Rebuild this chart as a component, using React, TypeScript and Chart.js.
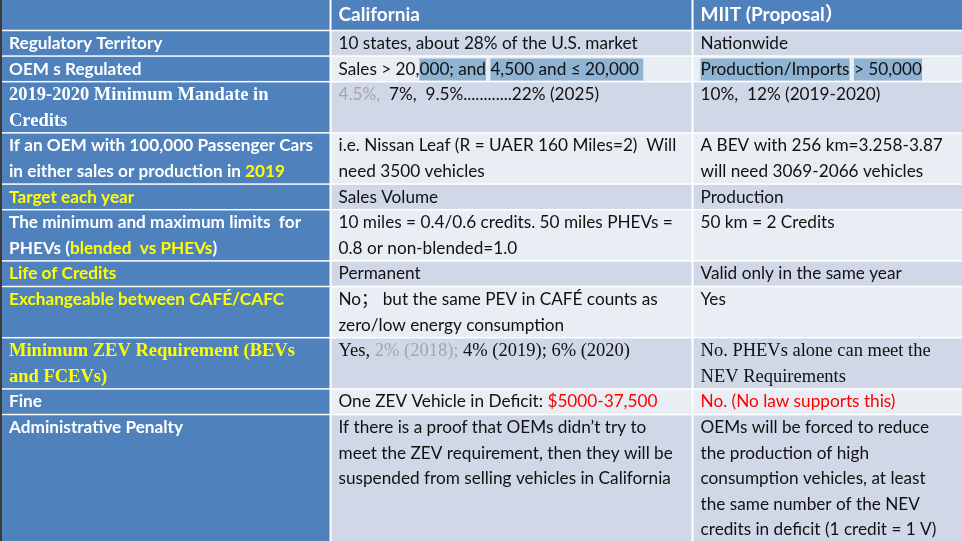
import { useEffect, useRef } from "react";
import { Chart, registerables } from "chart.js";

Chart.register(...registerables);

// ---------- content ----------
const columnHeaders = ["", "California", "MIIT (Proposal）"];

const rowLabels = [
  "Regulatory Territory",
  "OEM s Regulated",
  "2019-2020 Minimum Mandate in\nCredits",
  "If an OEM with 100,000 Passenger Cars\nin either sales or production in {y|2019}",
  "{y|Target each year}",
  "The minimum and maximum limits  for\nPHEVs ({y|blended  vs PHEVs})",
  "{y|Life of Credits}",
  "{y|Exchangeable between CAFÉ/CAFC}",
  "{y|Minimum ZEV Requirement (BEVs}\n{y|and FCEVs)}",
  "Fine",
  "Administrative Penalty",
];

const californiaValues = [
  "10 states, about 28% of the U.S. market",
  "Sales > 20,{h|000; and} {h|4,500 and ≤ 20,000 }",
  "{g|4.5%, } 7%,  9.5%............22% (2025)",
  "i.e. Nissan Leaf (R = UAER 160 Miles=2)  Will\nneed 3500 vehicles",
  "Sales Volume",
  "10 miles = 0.4/0.6 credits. 50 miles PHEVs =\n0.8 or non-blended=1.0",
  "Permanent",
  "No； but the same PEV in CAFÉ counts as\nzero/low energy consumption",
  "Yes, {g|2% (2018); }4% (2019); 6% (2020)",
  "One ZEV Vehicle in Deficit: {r|$5000-37,500}",
  "If there is a proof that OEMs didn’t try to\nmeet the ZEV requirement, then they will be\nsuspended from selling vehicles in California",
];

const miitValues = [
  "Nationwide",
  "{h|Production/Imports} {h|> 50,000}",
  "10%,  12% (2019-2020)",
  "A BEV with 256 km=3.258-3.87\nwill need 3069-2066 vehicles",
  "Production",
  "50 km = 2 Credits",
  "Valid only in the same year",
  "Yes",
  "No. PHEVs alone can meet the\nNEV Requirements",
  "{r|No. (No law supports this)}",
  "OEMs will be forced to reduce\nthe production of high\nconsumption vehicles, at least\nthe same number of the NEV\ncredits in deficit (1 credit = 1 V)",
];

const rowLineCounts = [1, 1, 2, 2, 1, 2, 1, 2, 2, 1, 5];

// ---------- layout & style ----------
const COL_EDGES = [0, 34.22, 71.93, 100]; // percent of table width
const HEADER_LINES = 1.19;
const Y_MAX = 21.13;
const SERIF_CELLS = new Set(["2-0", "8-0", "8-1", "8-2"]);

const BLUE = "#4f81bd";
const ROW_DARK = "#d0d8e8";
const ROW_LIGHT = "#e9edf4";
const HILITE = "#8fb3d2";
const RUN_COLORS: Record<string, string> = {
  y: "#ffff00",
  g: "#a6a6a6",
  r: "#ff0000",
};
const SANS = "Lato, 'Noto Sans CJK SC'";
const SERIF = "'Liberation Serif', 'Noto Sans CJK SC'";
const SANS_SIZE = 17.2;
const HEADER_SIZE = 19;
const SERIF_SIZE = 18.5;

type Run = { text: string; kind: string };

function parseLine(line: string): Run[] {
  const runs: Run[] = [];
  const re = /\{(\w)\|([^}]*)\}/g;
  let last = 0;
  let m: RegExpExecArray | null;
  while ((m = re.exec(line))) {
    if (m.index > last) runs.push({ text: line.slice(last, m.index), kind: "" });
    runs.push({ text: m[2], kind: m[1] });
    last = m.index + m[0].length;
  }
  if (last < line.length) runs.push({ text: line.slice(last), kind: "" });
  return runs;
}

const tablePlugin = {
  id: "tablePlugin",
  beforeDraw(chart: any) {
    const { ctx, scales, width, height } = chart;
    const xs = scales.x;
    const ys = scales.y;
    const linePx = ys.getPixelForValue(1) - ys.getPixelForValue(0);
    ctx.save();
    ctx.fillStyle = "#ffffff";
    ctx.fillRect(0, 0, width, height);
    // slide edge
    ctx.fillStyle = "#3b3b3b";
    ctx.fillRect(0, 0, 2, height);

    const drawCell = (
      col: number,
      top: number,
      bottom: number,
      fill: string,
      content: string,
      baseColor: string,
      bold: boolean,
      serif: boolean,
      firstBaseline: number,
      sizeOverride?: number
    ) => {
      const x0 = xs.getPixelForValue(COL_EDGES[col]) + (col === 0 ? 0 : 1);
      const x1 = xs.getPixelForValue(COL_EDGES[col + 1]) - (col === 2 ? 0 : 1);
      const y0 = ys.getPixelForValue(top) + (top === 0 ? 0 : 0.75);
      const y1 = ys.getPixelForValue(bottom) - 0.75;
      ctx.fillStyle = fill;
      ctx.fillRect(x0, y0, x1 - x0, y1 - y0);
      const size = sizeOverride || (serif ? SERIF_SIZE : SANS_SIZE);
      ctx.font = `${bold ? "bold " : ""}${size}px ${serif ? SERIF : SANS}`;
      ctx.textBaseline = "alphabetic";
      const lines = content.split("\n");
      lines.forEach((ln, i) => {
        let x = x0 + 7;
        const by = ys.getPixelForValue(top) + firstBaseline + i * linePx;
        parseLine(ln).forEach((run) => {
          const w = ctx.measureText(run.text).width;
          if (run.kind === "h") {
            ctx.fillStyle = HILITE;
            ctx.fillRect(x, by - 16, w, 22);
          }
          ctx.fillStyle = RUN_COLORS[run.kind] || baseColor;
          ctx.fillText(run.text, x, by);
          x += w;
        });
      });
    };

    // header row
    columnHeaders.forEach((h, c) => {
      drawCell(c, 0, HEADER_LINES, BLUE, h, "#ffffff", true, false, 0.83 * linePx, HEADER_SIZE);
    });
    // body rows
    let top = HEADER_LINES;
    rowLabels.forEach((label, r) => {
      const bottom = top + rowLineCounts[r];
      const fill = r % 2 === 0 ? ROW_DARK : ROW_LIGHT;
      const fb = 0.72 * linePx;
      drawCell(0, top, bottom, BLUE, label, "#ffffff", true, SERIF_CELLS.has(`${r}-0`), fb);
      drawCell(1, top, bottom, fill, californiaValues[r], "#111111", false, SERIF_CELLS.has(`${r}-1`), fb);
      drawCell(2, top, bottom, fill, miitValues[r], "#111111", false, SERIF_CELLS.has(`${r}-2`), fb);
      top = bottom;
    });
    ctx.restore();
  },
};

export default function App() {
  const ref = useRef<HTMLCanvasElement>(null);
  useEffect(() => {
    document.body.style.margin = "0";
    const chart = new Chart(ref.current!, {
      type: "scatter",
      data: { datasets: [] },
      options: {
        animation: false,
        responsive: true,
        maintainAspectRatio: false,
        layout: { padding: { left: 2, right: 0, top: 0, bottom: 0 } },
        plugins: { legend: { display: false }, tooltip: { enabled: false } },
        scales: {
          x: { type: "linear", min: 0, max: 100, display: false },
          y: { type: "linear", min: 0, max: Y_MAX, reverse: true, display: false },
        },
      },
      plugins: [tablePlugin],
    });
    return () => chart.destroy();
  }, []);
  return (
    <div style={{ width: 962, height: 541, position: "relative", overflow: "hidden" }}>
      <canvas ref={ref} />
    </div>
  );
}
